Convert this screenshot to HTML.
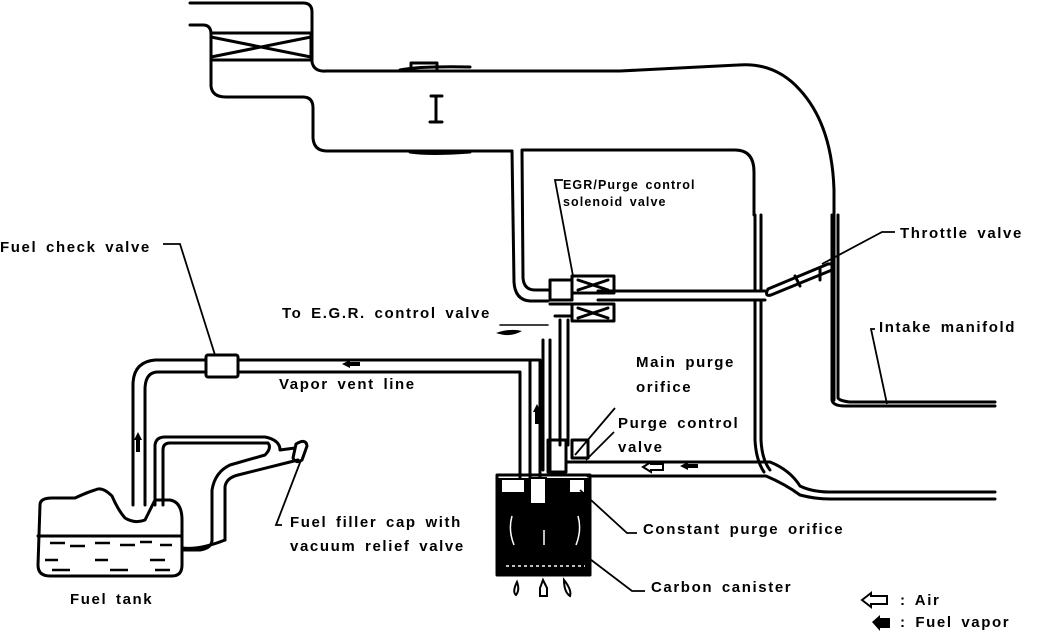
<!DOCTYPE html>
<html><head><meta charset="utf-8"><style>
html,body{margin:0;padding:0;background:#fff;}
svg{display:block;}
text{font-family:"Liberation Sans",Arial,sans-serif;font-weight:bold;fill:#000;}
</style></head><body>
<svg width="1056" height="638" viewBox="0 0 1056 638" xmlns="http://www.w3.org/2000/svg">
<g fill="none" stroke="#000" stroke-width="3" stroke-linejoin="round" stroke-linecap="round">
<!-- air duct -->
<path d="M190 3 H303 Q312 3 312 12 V62 Q314 72 326 71 H620 L738 65 Q775 62 800 90 Q832 125 834 190 V400"/>
<path d="M190 25 H203 Q211 25 211 34 V86 Q212 97 226 97 H303 Q313 97 313 108 V138 Q314 151 327 151 H512"/>
<rect x="211" y="33" width="100" height="27"/>
<path d="M211 37 L311 57 M211 57 L311 37"/>
<path d="M411 70 V63 H437 V70 M400 70 Q420 66 470 67"/>
<path d="M410 152 Q430 155 470 152"/>
<path d="M436 96 V122 M431 96 H442 M430 122 H442"/>
<!-- pipe down to solenoid -->
<path d="M512 151 L514 282 Q515 300 530 301 H548"/>
<path d="M522 151 L523 278 Q524 290 535 290 H548"/>
<path d="M522 150 H735 Q754 150 754 172 V215"/>
<!-- throttle body walls -->
<path d="M755 215 V290 M761 215 V290 M755 301 V440 Q756 460 764 472 M761 301 V440 Q762 460 770 470"/>
<path d="M832 215 V400 Q833 406 845 406 H995 M838 215 V398 Q840 401 850 402 H995"/>
<!-- solenoid to throttle pipe -->
<path d="M598 291 H765 M598 300 H765"/>
<path d="M768 289 L828 264 Q834 263 832 270 L771 295 Q764 297 768 289Z"/>
<path d="M795 276 L800 286 M820 268 V280"/>
<!-- solenoid -->
<rect x="572" y="276" width="42" height="17"/>
<rect x="572" y="304" width="42" height="17"/>
<path d="M550 280 H572 V300 H550 Z"/>
<path d="M550 304 H572 V316 H555"/>
<path d="M578 280 L608 290 M578 290 L608 280 M578 308 L608 318 M578 318 L608 308"/>
<path d="M560 320 V445 M568 320 V445"/>
<path d="M543 340 V470 M550 340 V470"/>
<path d="M500 325 H548" stroke-width="1.5"/>
<!-- vapor vent line -->
<path d="M238 360 H530 V478 M238 372 H520 V478" />
<path d="M528 360 H540 V478"/>
<rect x="206" y="355" width="32" height="22" rx="2"/>
<path d="M206 360 H155 Q133 362 133 385 V505 M206 372 H158 Q145 372 145 390 V505"/>
<!-- purge control valve -->
<rect x="548" y="440" width="18" height="32"/>
<rect x="572" y="440" width="16" height="18"/>
<path d="M566 462 H770 Q790 470 800 486 Q812 492 830 492 H995 M588 476 H766 Q785 484 800 495 Q815 499 830 499 H995"/>
<!-- canister -->
<path d="M497 475 H590 V575 H497 Z"/>
<!-- tank -->
<path d="M40 505 Q40 498 52 498 H75 Q88 492 95 490 Q102 486 112 496 Q118 510 125 518 Q135 524 145 520 L155 500 H170 Q182 502 182 520 V565 Q182 576 172 576 H50 Q38 576 38 565 Z"/>
<path d="M38 536 H182"/>
<path d="M155 505 V445 Q156 437 165 437 H265 Q280 440 280 450 L295 448 M163 505 V450 Q163 443 170 443 H268 Q272 448 265 455 L230 465 Q215 472 212 490 V540 M225 540 V487 Q226 478 238 475 L298 460"/>
<path d="M182 550 H200 Q212 548 212 540 M182 548 Q200 550 225 540"/>
<path d="M296 444 Q306 438 307 446 L302 460 Q296 464 293 458Z"/>
</g>
<g fill="#000" stroke="none">
<rect x="497" y="478" width="93" height="96"/>
<rect x="530" y="478" width="16" height="26" fill="#fff" stroke="#000" stroke-width="2"/>
<rect x="502" y="480" width="22" height="12" fill="#fff"/>
<rect x="570" y="480" width="14" height="12" fill="#fff"/>
<path d="M506 566 H585" stroke="#fff" stroke-width="1.5" stroke-dasharray="3 3"/>
<path d="M512 516 Q508 530 514 545 M578 516 Q582 530 576 545 M544 530 V545" stroke="#fff" stroke-width="1.5" fill="none"/>
<path d="M50 543 H65 M70 546 H85 M95 543 H110 M120 545 H135 M140 542 H152 M160 545 H172 M45 560 H58 M95 560 H108 M150 560 H165 M52 570 H70 M110 570 H128 M155 570 H170" stroke="#000" stroke-width="2.5"/>
<path d="M496 333 Q510 328 522 331 Q510 338 496 333Z"/>
<path d="M342 364 L350 360 L350 362 H360 V366 H350 V368Z"/>
<path d="M537 404 L541 412 H539 V424 H535 V412 H533Z"/>
<path d="M138 432 L142 440 H140 V452 H136 V440 H134Z"/>
<path d="M680 466 L688 462 V464 H698 V468 H688 V470Z"/>
<path d="M872 622 L880 615 V618 H890 V628 H880 V631Z"/>
</g>
<g fill="none" stroke="#000" stroke-width="2">
<path d="M643 467 L651 462 V464 H663 V470 H651 V472Z"/>
<path d="M862 600 L871 593 V596 H887 V604 H871 V607Z"/>
<path d="M517 582 Q520 590 516 595 Q512 592 517 582Z M543 580 L547 588 V596 H540 V588Z M564 580 Q572 590 570 596 Q564 592 564 580Z"/>
</g>
<g fill="none" stroke="#000" stroke-width="1.8">
<path d="M163 244 H180 L215 355"/>
<path d="M563 180 H555 L573 276"/>
<path d="M895 232 H882 L822 264"/>
<path d="M875 329 H871 L887 404"/>
<path d="M615 408 L575 455"/>
<path d="M614 432 L586 460"/>
<path d="M637 533 H627 L580 490"/>
<path d="M645 591 H632 L586 556"/>
<path d="M282 525 H276 L301 460"/>
</g>
<g font-size="15" letter-spacing="1.6" word-spacing="3">
<text x="0" y="252">Fuel check valve</text>
<text x="900" y="238">Throttle valve</text>
<text x="879" y="332">Intake manifold</text>
<text x="282" y="318">To E.G.R. control valve</text>
<text x="636" y="367">Main purge</text>
<text x="636" y="392">orifice</text>
<text x="618" y="428">Purge control</text>
<text x="618" y="452">valve</text>
<text x="279" y="389">Vapor vent line</text>
<text x="290" y="527">Fuel filler cap with</text>
<text x="290" y="551">vacuum relief valve</text>
<text x="643" y="534">Constant purge orifice</text>
<text x="651" y="592">Carbon canister</text>
<text x="70" y="604">Fuel tank</text>
<text x="900" y="605">: Air</text>
<text x="900" y="627">: Fuel vapor</text>
</g>
<g font-size="12.5" letter-spacing="1.1" word-spacing="2">
<text x="563" y="189">EGR/Purge control</text>
<text x="563" y="206">solenoid valve</text>
</g>
</svg>
</body></html>
